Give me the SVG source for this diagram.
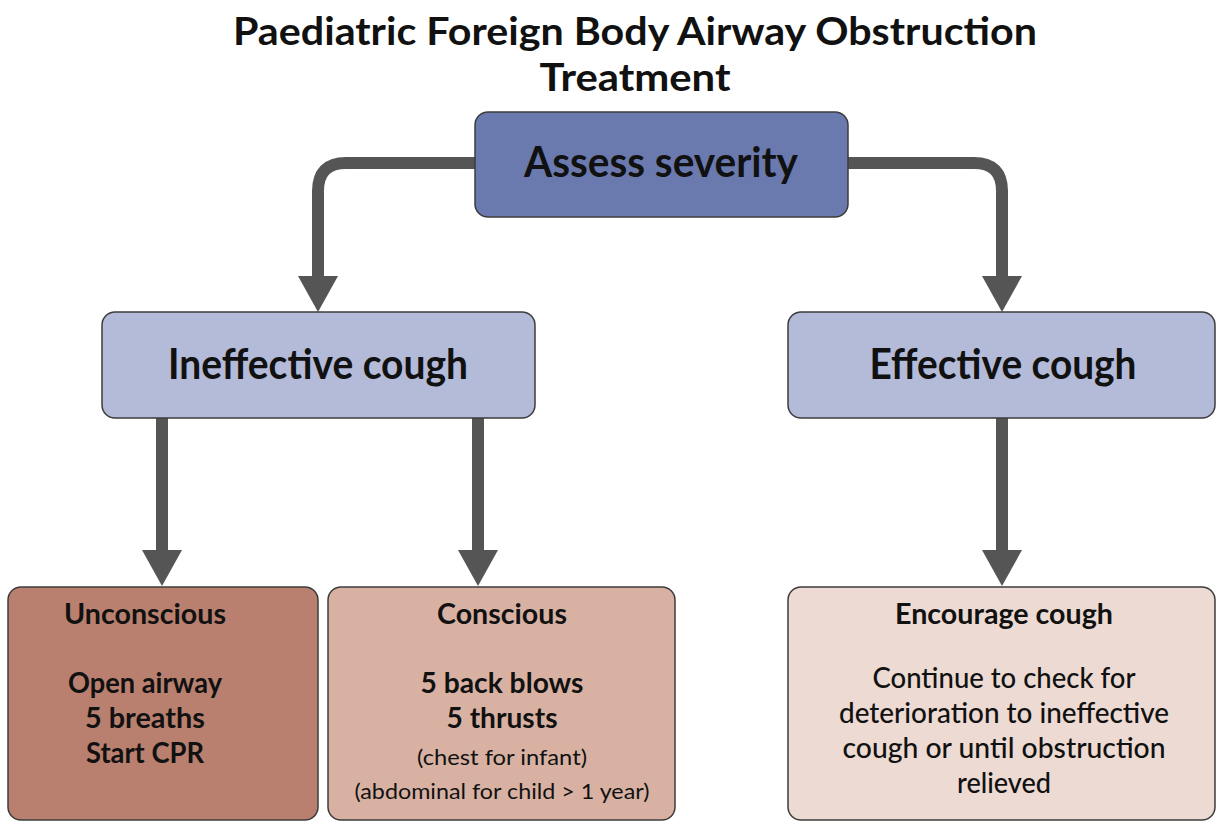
<svg xmlns="http://www.w3.org/2000/svg" width="1217" height="822" viewBox="0 0 1217 822">
  <style>
    text { font-family: Lato, "Open Sans", "Liberation Sans", sans-serif; fill: #111; text-anchor: middle; }
    .title { font-size: 39px; font-weight: 700; }
    .big { font-size: 42px; font-weight: 700; }
    .head { font-size: 28px; font-weight: 700; }
    .body { font-size: 28px; font-weight: 700; }
    .note { font-size: 22px; font-weight: 400; }
    .info { font-size: 29px; font-weight: 500; }
    .box { stroke: #3c3c3c; stroke-width: 1.5; }
    .conn { fill: none; stroke: #555; stroke-width: 12; stroke-linecap: butt; stroke-linejoin: round; marker-end: url(#arrow); }
  </style>
  <defs>
    <marker id="arrow" viewBox="0 0 36 40" refX="1" refY="20" markerWidth="36" markerHeight="40" markerUnits="userSpaceOnUse" orient="auto">
      <path d="M0,0 L36,20 L0,40 Z" fill="#555"/>
    </marker>
  </defs>

  <rect width="1217" height="822" fill="#fff"/>

  <!-- heading -->
  <g id="title">
    <text class="title" x="635" y="45" textLength="804" lengthAdjust="spacingAndGlyphs">Paediatric Foreign Body Airway Obstruction</text>
    <text class="title" x="635" y="91" textLength="191" lengthAdjust="spacingAndGlyphs">Treatment</text>
  </g>

  <!-- connectors -->
  <g id="connectors">
    <path class="conn" d="M475,163 H346 Q318,163 318,191 V277"/>
    <path class="conn" d="M848,163 H974 Q1002,163 1002,191 V277"/>
    <path class="conn" d="M162,418 V551"/>
    <path class="conn" d="M478,418 V551"/>
    <path class="conn" d="M1002,418 V551"/>
  </g>

  <!-- nodes -->
  <g id="assess">
    <rect class="box" x="475" y="112" width="373" height="105" rx="13" fill="#6b7aae"/>
    <text class="big" x="661" y="177" textLength="274" lengthAdjust="spacingAndGlyphs">Assess severity</text>
  </g>

  <g id="ineffective">
    <rect class="box" x="102" y="312" width="433" height="106" rx="13" fill="#b3bbd9"/>
    <text class="big" x="318" y="379" textLength="300" lengthAdjust="spacingAndGlyphs">Ineffective cough</text>
  </g>

  <g id="effective">
    <rect class="box" x="788" y="312" width="427" height="106" rx="13" fill="#b3bbd9"/>
    <text class="big" x="1003" y="379" textLength="267" lengthAdjust="spacingAndGlyphs">Effective cough</text>
  </g>

  <g id="unconscious">
    <rect class="box" x="8" y="587" width="310" height="233" rx="13" fill="#b9806f"/>
    <text class="head" x="145" y="624" textLength="162" lengthAdjust="spacingAndGlyphs">Unconscious</text>
    <text class="body" x="145" y="693" textLength="154" lengthAdjust="spacingAndGlyphs">Open airway</text>
    <text class="body" x="145" y="728" textLength="120" lengthAdjust="spacingAndGlyphs">5 breaths</text>
    <text class="body" x="145" y="763" textLength="118" lengthAdjust="spacingAndGlyphs">Start CPR</text>
  </g>

  <g id="conscious">
    <rect class="box" x="328" y="587" width="347" height="233" rx="13" fill="#d8b1a3"/>
    <text class="head" x="502" y="624" textLength="130" lengthAdjust="spacingAndGlyphs">Conscious</text>
    <text class="body" x="502" y="693" textLength="163" lengthAdjust="spacingAndGlyphs">5 back blows</text>
    <text class="body" x="502" y="728" textLength="111" lengthAdjust="spacingAndGlyphs">5 thrusts</text>
    <text class="note" x="502" y="765" textLength="170" lengthAdjust="spacingAndGlyphs">(chest for infant)</text>
    <text class="note" x="502" y="799" textLength="295" lengthAdjust="spacingAndGlyphs">(abdominal for child &gt; 1 year)</text>
  </g>

  <g id="encourage">
    <rect class="box" x="788" y="587" width="427" height="233" rx="13" fill="#ecdad3"/>
    <text class="head" x="1004" y="624" textLength="218" lengthAdjust="spacingAndGlyphs">Encourage cough</text>
    <text class="info" x="1004" y="688" textLength="263" lengthAdjust="spacingAndGlyphs">Continue to check for</text>
    <text class="info" x="1004" y="723" textLength="330" lengthAdjust="spacingAndGlyphs">deterioration to ineffective</text>
    <text class="info" x="1004" y="758" textLength="323" lengthAdjust="spacingAndGlyphs">cough or until obstruction</text>
    <text class="info" x="1004" y="793" textLength="94" lengthAdjust="spacingAndGlyphs">relieved</text>
  </g>
</svg>
